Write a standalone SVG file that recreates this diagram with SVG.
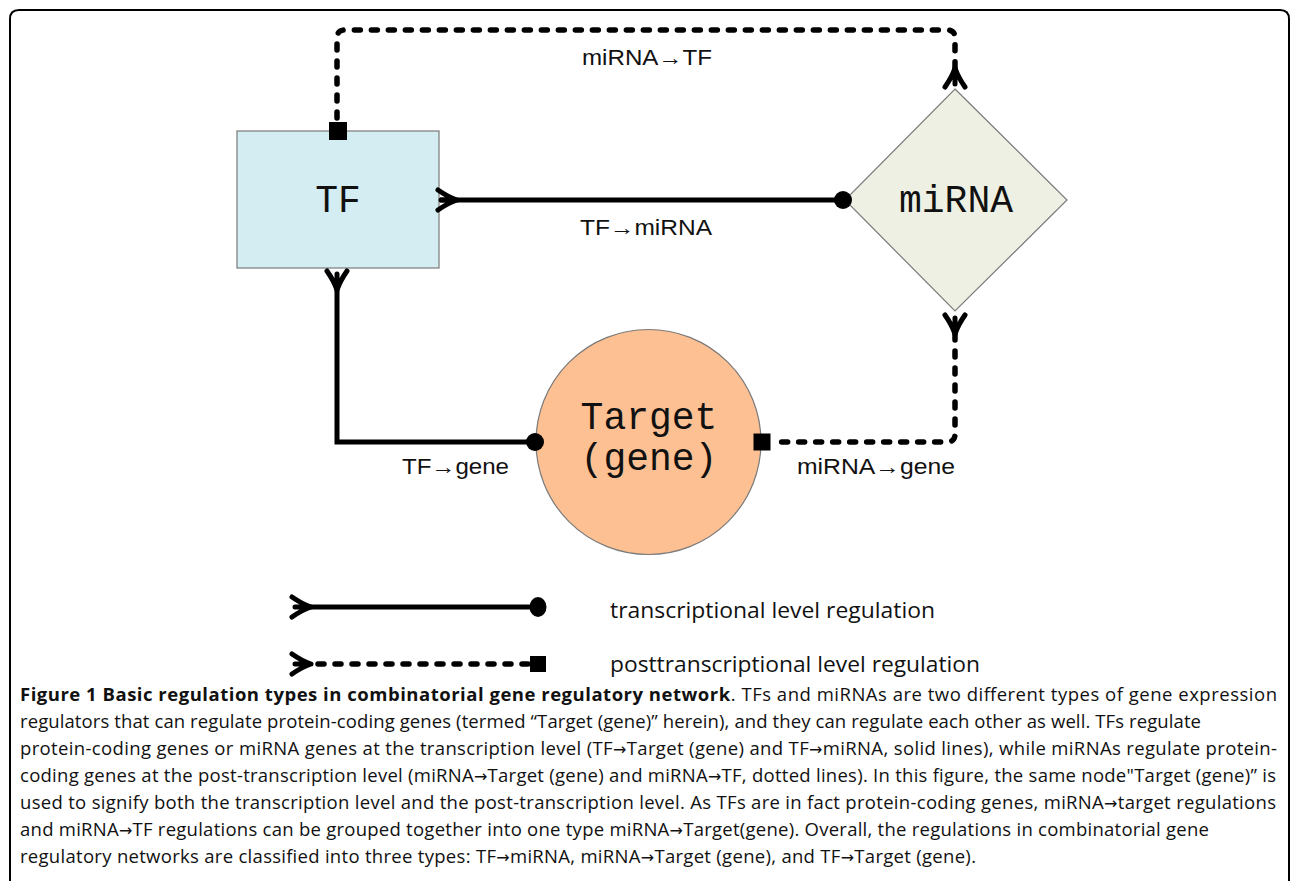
<svg xmlns="http://www.w3.org/2000/svg" xmlns:xlink="http://www.w3.org/1999/xlink" width="1290" height="881" viewBox="0 0 1290 881">
  <style>
    .node-label { font-family: "Liberation Mono", "DejaVu Sans Mono", monospace; font-size: 38px; fill: #111; text-anchor: middle; }
    .edge-label { font-family: "Liberation Sans", Arial, sans-serif; font-size: 22px; fill: #111; }
    .legend-label { font-family: "Open Sans", "Noto Sans", sans-serif; font-size: 21px; fill: #111; }
    .caption { font-family: "Open Sans", "Noto Sans", sans-serif; font-size: 18.5px; fill: #111; }
    .caption .title { font-weight: bold; }
    .caption .arr { font-family: "DejaVu Sans", sans-serif; font-size: 16px; }
    .solid { fill: none; stroke: #000; stroke-width: 5; }
    .dashed { fill: none; stroke: #000; stroke-width: 5.5; stroke-dasharray: 6 11; stroke-linecap: round; }
    .fork { fill: none; stroke: #000; stroke-width: 5; stroke-linecap: round; stroke-linejoin: round; }
    .node-shape { stroke: #7a7a7a; stroke-width: 1.2; }
  </style>
  <defs>
    <!-- forked arrowhead, tip at origin, pointing along +x -->
    <path id="fork" class="fork" d="M-19,-10 Q-9,-3 0,0 Q-9,3 -19,10 M-16,0 H0"/>
  </defs>

  <rect width="1290" height="881" fill="#fff"/>

  <!-- figure frame -->
  <path d="M10,895 V19 Q10,10 19,10 H1280 Q1289,10 1289,19 V895" fill="none" stroke="#000" stroke-width="2"/>

  <!-- nodes -->
  <g id="node-tf">
    <rect class="node-shape" x="237" y="131" width="202" height="137" fill="#d4edf2"/>
    <text class="node-label" x="338" y="212">TF</text>
  </g>
  <g id="node-mirna">
    <polygon class="node-shape" points="955,89 1067,200 955,311 845,200" fill="#eef0e3"/>
    <text class="node-label" x="956" y="212">miRNA</text>
  </g>
  <g id="node-target">
    <circle class="node-shape" cx="648.5" cy="442" r="112.5" fill="#fdc092"/>
    <text class="node-label" x="649" y="429">Target</text>
    <text class="node-label" x="649" y="470">(gene)</text>
  </g>

  <!-- connectors, drawn over the node outlines -->
  <g id="connectors">
    <!-- TF -> miRNA -->
    <path class="solid" d="M440,200 H843"/>
    <use xlink:href="#fork" transform="translate(457,200)"/>
    <circle cx="843" cy="200" r="9" fill="#000"/>

    <!-- TF -> gene -->
    <path class="solid" d="M337,286 V442 H535"/>
    <use xlink:href="#fork" transform="translate(337,290) rotate(90)"/>
    <circle cx="535" cy="442" r="9" fill="#000"/>

    <!-- miRNA -> TF -->
    <path class="dashed" d="M337,118 V38 Q337,30 345,30 H947 Q955,30 955,38 V70"/>
    <use xlink:href="#fork" transform="translate(955,68) rotate(-90)"/>
    <rect x="329" y="122" width="18" height="18" fill="#000"/>

    <!-- miRNA -> gene -->
    <path class="dashed" d="M955,334 V434 Q955,442 947,442 H772"/>
    <use xlink:href="#fork" transform="translate(955,334) rotate(90)"/>
    <rect x="753.5" y="433.5" width="17" height="17" fill="#000"/>

    <text class="edge-label" x="582" y="65" textLength="130" lengthAdjust="spacingAndGlyphs">miRNA→TF</text>
    <text class="edge-label" x="580" y="235" textLength="132" lengthAdjust="spacingAndGlyphs">TF→miRNA</text>
    <text class="edge-label" x="402" y="474" textLength="107" lengthAdjust="spacingAndGlyphs">TF→gene</text>
    <text class="edge-label" x="797" y="474" textLength="158" lengthAdjust="spacingAndGlyphs">miRNA→gene</text>
  </g>

  <!-- legend -->
  <g id="legend">
    <path class="solid" d="M300,607 H538"/>
    <use xlink:href="#fork" transform="translate(311,607)"/>
    <ellipse cx="538" cy="607" rx="8.5" ry="10" fill="#000"/>
    <text class="legend-label" x="610" y="618" textLength="325" lengthAdjust="spacingAndGlyphs">transcriptional level regulation</text>

    <path class="dashed" d="M318,664 H528"/>
    <use xlink:href="#fork" transform="translate(311,664)"/>
    <rect x="530" y="656" width="16" height="16" fill="#000"/>
    <text class="legend-label" x="610" y="672" textLength="370" lengthAdjust="spacingAndGlyphs">posttranscriptional level regulation</text>
  </g>

  <!-- caption -->
  <g id="caption" class="caption">
    <text x="20" y="701" textLength="1257" lengthAdjust="spacing"><tspan class="title">Figure 1 Basic regulation types in combinatorial gene regulatory network</tspan>. TFs and miRNAs are two different types of gene expression</text>
    <text x="20" y="728" textLength="1181" lengthAdjust="spacing">regulators that can regulate protein-coding genes (termed “Target (gene)” herein), and they can regulate each other as well. TFs regulate</text>
    <text x="20" y="755" textLength="1257" lengthAdjust="spacing">protein-coding genes or miRNA genes at the transcription level (TF<tspan class="arr">→</tspan>Target (gene) and TF<tspan class="arr">→</tspan>miRNA, solid lines), while miRNAs regulate protein-</text>
    <text x="20" y="782" textLength="1256" lengthAdjust="spacing">coding genes at the post-transcription level (miRNA<tspan class="arr">→</tspan>Target (gene) and miRNA<tspan class="arr">→</tspan>TF, dotted lines). In this figure, the same node"Target (gene)” is</text>
    <text x="20" y="809" textLength="1256" lengthAdjust="spacing">used to signify both the transcription level and the post-transcription level. As TFs are in fact protein-coding genes, miRNA<tspan class="arr">→</tspan>target regulations</text>
    <text x="20" y="836" textLength="1189" lengthAdjust="spacing">and miRNA<tspan class="arr">→</tspan>TF regulations can be grouped together into one type miRNA<tspan class="arr">→</tspan>Target(gene). Overall, the regulations in combinatorial gene</text>
    <text x="20" y="863" textLength="956" lengthAdjust="spacing">regulatory networks are classified into three types: TF<tspan class="arr">→</tspan>miRNA, miRNA<tspan class="arr">→</tspan>Target (gene), and TF<tspan class="arr">→</tspan>Target (gene).</text>
  </g>
</svg>
